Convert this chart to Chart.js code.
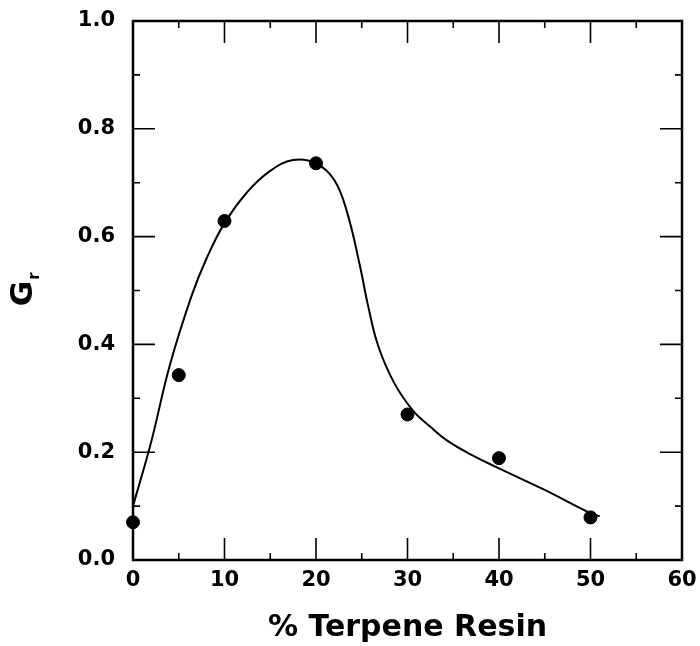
<!DOCTYPE html>
<html>
<head>
<meta charset="utf-8">
<script src="https://cdn.jsdelivr.net/npm/chart.js@4/dist/chart.umd.min.js"></script>
<style>
  html, body { margin: 0; padding: 0; background: #fff; }
  #wrap { width: 700px; height: 646px; position: relative; }
</style>
</head>
<body>
<div id="wrap"><canvas id="c" width="700" height="646"></canvas></div>
<script>
// ---- data ----
const pctResin = [0, 5, 10, 20, 30, 40, 50];
const grValues = [0.070, 0.343, 0.629, 0.736, 0.270, 0.189, 0.079];

// smooth fitted curve
const fitX = [0, 2, 4, 6.4, 8, 10, 12.5, 15, 17.5, 20, 22, 23.4, 24.8, 25.7, 26.8, 28.5, 30.6, 32.5, 34.3, 37, 40, 45, 49.6, 51];
const fitY = [0.10, 0.22, 0.36, 0.49, 0.558, 0.625, 0.683, 0.722, 0.742, 0.736, 0.705, 0.645, 0.546, 0.471, 0.397, 0.330, 0.277, 0.247, 0.222, 0.195, 0.170, 0.130, 0.090, 0.081];

const xMajorTicks = [0, 10, 20, 30, 40, 50, 60];
const xMinorTicks = [5, 15, 25, 35, 45, 55];
const yMajorTicks = [0, 0.2, 0.4, 0.6, 0.8, 1.0];
const yMinorTicks = [0.1, 0.3, 0.5, 0.7, 0.9];

const xTitle = '% Terpene Resin';
const yTitleMain = 'G';
const yTitleSub = 'r';

const FONT = '"DejaVu Sans", sans-serif';

const framePlugin = {
  id: 'frameTicks',
  afterDatasetsDraw(chart) {
    const ctx = chart.ctx;
    const a = chart.chartArea;
    const xs = chart.scales.x, ys = chart.scales.y;
    ctx.save();
    ctx.strokeStyle = '#000';
    ctx.lineCap = 'butt';
    ctx.lineWidth = 2.5;
    ctx.strokeRect(a.left, a.top, a.right - a.left, a.bottom - a.top);
    ctx.lineWidth = 1.6;
    const MAJ = 22, MIN = 7;
    ctx.beginPath();
    xMajorTicks.forEach(v => {
      const p = xs.getPixelForValue(v);
      ctx.moveTo(p, a.bottom); ctx.lineTo(p, a.bottom - MAJ);
      ctx.moveTo(p, a.top); ctx.lineTo(p, a.top + MAJ);
    });
    xMinorTicks.forEach(v => {
      const p = xs.getPixelForValue(v);
      ctx.moveTo(p, a.bottom); ctx.lineTo(p, a.bottom - MIN);
      ctx.moveTo(p, a.top); ctx.lineTo(p, a.top + MIN);
    });
    yMajorTicks.forEach(v => {
      const p = ys.getPixelForValue(v);
      ctx.moveTo(a.left, p); ctx.lineTo(a.left + MAJ, p);
      ctx.moveTo(a.right, p); ctx.lineTo(a.right - MAJ, p);
    });
    yMinorTicks.forEach(v => {
      const p = ys.getPixelForValue(v);
      ctx.moveTo(a.left, p); ctx.lineTo(a.left + MIN, p);
      ctx.moveTo(a.right, p); ctx.lineTo(a.right - MIN, p);
    });
    ctx.stroke();
    ctx.restore();
  },
  afterDraw(chart) {
    const ctx = chart.ctx;
    const a = chart.chartArea;
    ctx.save();
    ctx.fillStyle = '#000';
    ctx.translate(32, (a.top + a.bottom) / 2);
    ctx.rotate(-Math.PI / 2);
    ctx.textBaseline = 'alphabetic';
    ctx.textAlign = 'left';
    ctx.font = 'bold 31px ' + FONT;
    const wG = ctx.measureText(yTitleMain).width;
    ctx.fillText(yTitleMain, -wG / 2 - 3, 0);
    ctx.font = 'bold 15px ' + FONT;
    ctx.fillText(yTitleSub, wG / 2 - 2, 7);
    ctx.restore();
  }
};

new Chart(document.getElementById('c'), {
  type: 'scatter',
  data: {
    datasets: [
      {
        type: 'line',
        data: fitX.map((x, i) => ({ x: x, y: fitY[i] })),
        borderColor: '#000',
        borderWidth: 2,
        pointRadius: 0,
        fill: false,
        tension: 0.4
      },
      {
        data: pctResin.map((x, i) => ({ x: x, y: grValues[i] })),
        backgroundColor: '#000',
        borderColor: '#000',
        pointRadius: 6.5,
        pointHoverRadius: 6.5,
        clip: false
      }
    ]
  },
  options: {
    responsive: false,
    animation: false,
    events: [],
    layout: { padding: { top: 21, right: 18, left: 0, bottom: 0 } },
    plugins: { legend: { display: false }, tooltip: { enabled: false } },
    scales: {
      x: {
        type: 'linear', min: 0, max: 60,
        afterBuildTicks: s => { s.ticks = xMajorTicks.map(v => ({ value: v })); },
        afterFit: s => { s.height = 86; s.paddingLeft = 0; s.paddingRight = 0; },
        grid: { display: false, drawTicks: false },
        border: { display: false },
        ticks: {
          color: '#000', padding: 8, maxRotation: 0,
          font: { family: FONT, size: 21, weight: 'bold' },
          callback: v => String(v)
        },
        title: {
          display: true, text: xTitle, color: '#000',
          font: { family: FONT, size: 30, weight: 'bold' },
          padding: { top: 8, bottom: 0 }
        }
      },
      y: {
        type: 'linear', min: 0, max: 1,
        afterBuildTicks: s => { s.ticks = yMajorTicks.map(v => ({ value: v })); },
        afterFit: s => { s.width = 133; s.paddingTop = 0; s.paddingBottom = 0; },
        grid: { display: false, drawTicks: false },
        border: { display: false },
        ticks: {
          color: '#000', padding: 18,
          font: { family: FONT, size: 21, weight: 'bold' },
          callback: v => Number(v).toFixed(1)
        }
      }
    }
  },
  plugins: [framePlugin]
});
</script>
</body>
</html>
